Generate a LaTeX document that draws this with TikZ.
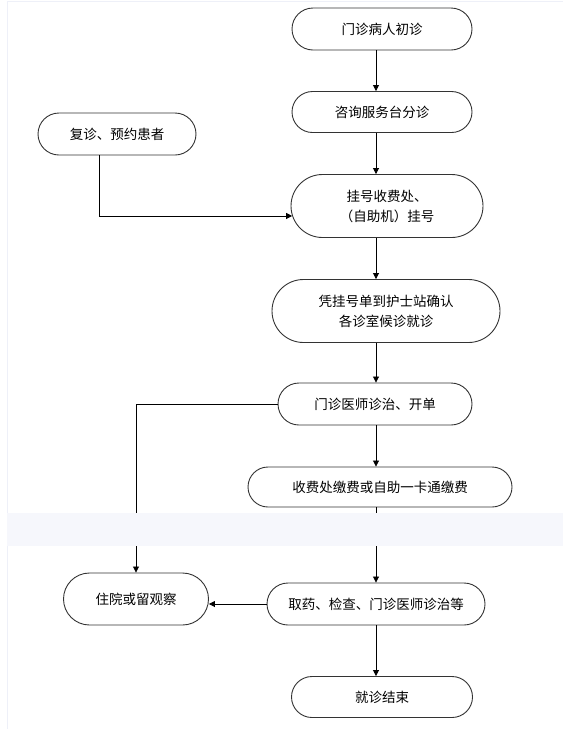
\documentclass[tikz,border=0pt]{standalone}
\usepackage{fontspec}
\setmainfont{Noto Sans CJK SC}
\usepackage{tikz}
\usetikzlibrary{arrows.meta,positioning,shapes.misc}
\definecolor{BandBlue}{HTML}{F6F7FC}
\definecolor{FrameBlue}{HTML}{EEF0F8}
\tikzset{
        stadium/.style 2 args={rounded rectangle, draw=black!80, line width=0.9pt,
            minimum width=#1pt, minimum height=#2pt, inner sep=0pt, align=center,
            font=\fontsize{13.5}{20}\selectfont},
        flow/.style={-{Triangle[length=6pt,width=6pt]}, line width=0.8pt},
    }

\begin{document}
\begin{tikzpicture}[x = 1pt, y = -1pt]
                \useasboundingbox (0,0) rectangle (563,729);
                \draw[FrameBlue] (7,729) -- (7,1) -- (563,1);
                \node[stadium={180}{42}] (n1) at (382,29) {门诊病人初诊};
                \node[stadium={180}{41}] (n2) at (382,112) {咨询服务台分诊};
                \node[stadium={158}{42}] (n3) at (117,134) {复诊、预约患者};
                \node[stadium={192}{63}] (n4) at (387,206) {挂号收费处、\\（自助机）挂号};
                \node[stadium={228}{63}] (n5) at (386,311) {凭挂号单到护士站确认\\各诊室候诊就诊};
                \node[stadium={194}{42}] (n6) at (375,404) {门诊医师诊治、开单};
                \node[stadium={264}{40}] (n7) at (380,487) {收费处缴费或自助一卡通缴费};
                \node[stadium={145}{52}] (n8) at (136,599) {住院或留观察};
                \node[stadium={218}{42}] (n9) at (376,604) {取药、检查、门诊医师诊治等};
                \node[stadium={181}{41}] (n10) at (382,697) {就诊结束};
                \coordinate (spine) at (376,0);
                \coordinate (bend) at (99,0);
                \foreach \a/\b in {n1/n2,n2/n4,n4/n5,n5/n6,n6/n7,n7/n9,n9/n10}
                {
                    \draw[flow] (\a.south -| spine) -- (\b.north -| spine);
                }
                \draw[flow] (n3.south -| bend) |- (n4.186);
                \draw[flow] (n6.west) -| (n8);
                \draw[flow] (n9.west) -- (n8.east |- n9.west);
                \path[fill=BandBlue] (7,513) rectangle (563,546);
            \end{tikzpicture}
\end{document}
